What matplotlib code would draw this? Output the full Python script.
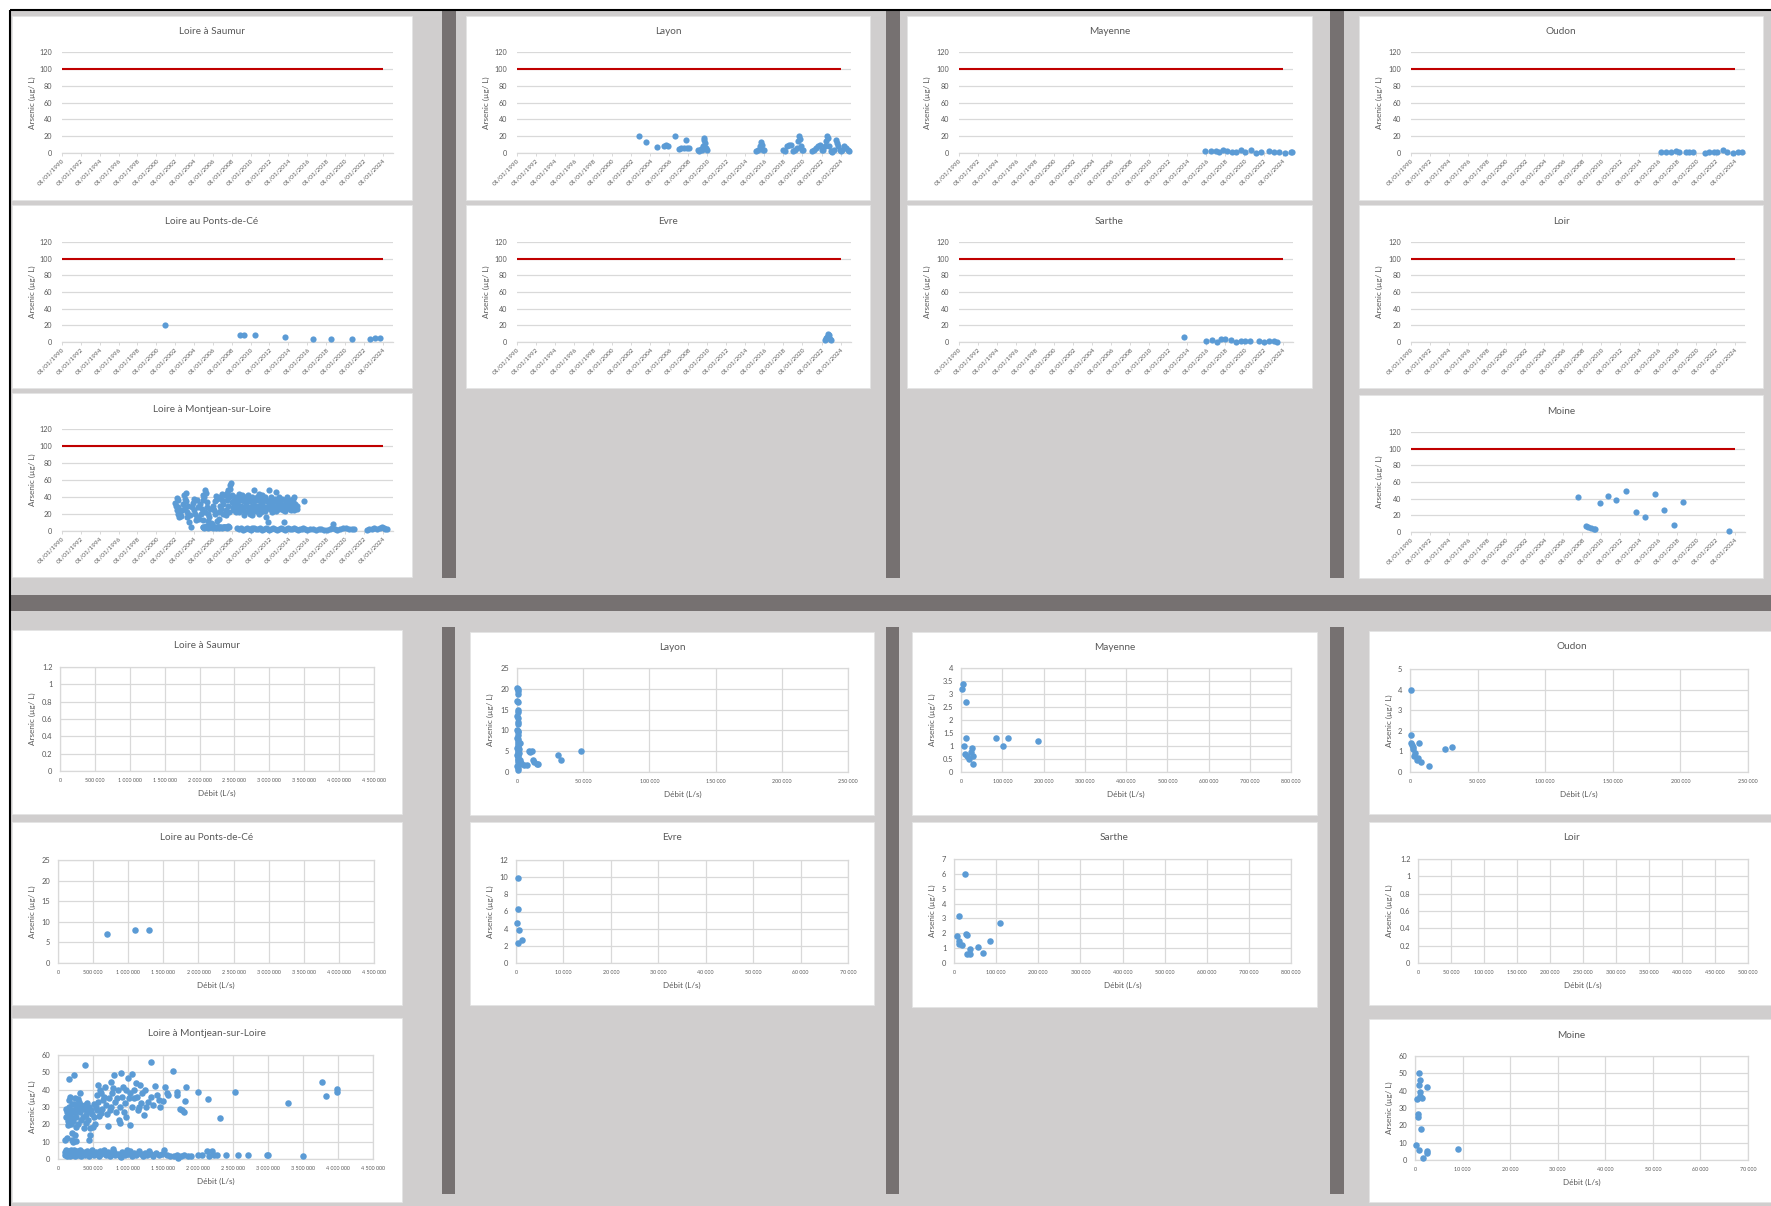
import matplotlib
matplotlib.use("Agg")
import matplotlib.pyplot as plt
from matplotlib.patches import Rectangle
from matplotlib.ticker import FuncFormatter
import numpy as np

plt.rcParams['font.family'] = ['Lato', 'DejaVu Sans']

# ---------------------------------------------------------------- data
# Time series: decimal year, arsenic (µg/L)
saumur_year, saumur_as = [], []

ponts_year = [2000.9, 2008.9, 2009.3, 2010.5, 2013.6, 2016.6, 2018.5, 2020.8, 2022.7, 2023.2, 2023.7]
ponts_as = [20, 8, 8, 8, 6, 4, 4, 3, 4, 5, 5]

montjean_year = [
    2002.1, 2002.2, 2002.3, 2002.4, 2002.7, 2003.0, 2003.1, 2003.3, 2003.5, 2003.7,
    2003.8, 2004.0, 2004.2, 2004.4, 2004.5, 2004.7, 2004.9, 2005.1, 2005.2, 2005.4,
    2005.3, 2005.6, 2005.8, 2005.9, 2006.1, 2006.3, 2006.5, 2006.6, 2006.8, 2007.0,
    2007.2, 2007.4, 2007.5, 2007.6, 2007.8, 2007.9, 2008.1, 2008.2, 2008.4, 2008.6,
    2008.8, 2008.9, 2009.1, 2009.3, 2009.5, 2009.6, 2009.8, 2010.0, 2010.2, 2010.4,
    2010.5, 2010.7, 2010.9, 2011.1, 2011.2, 2011.4, 2011.6, 2011.8, 2012.0, 2012.1,
    2012.3, 2012.5, 2012.7, 2012.9, 2013.2, 2013.4, 2013.5, 2013.7, 2013.9, 2014.0,
    2014.3, 2014.5, 2014.8, 2015.7,
    2002.0, 2002.15, 2002.25, 2002.35, 2002.5, 2002.6, 2002.8, 2002.9, 2003.05, 2003.2,
    2003.25, 2003.4, 2003.6, 2003.9, 2004.05, 2004.1, 2004.3, 2004.35, 2004.6, 2004.8,
    2004.95, 2005.0, 2005.15, 2005.25, 2005.35, 2005.45, 2005.5, 2005.65, 2005.75, 2006.0,
    2006.2, 2006.25, 2006.4, 2006.45, 2006.7, 2006.75, 2006.9, 2006.95, 2007.05, 2007.1,
    2007.3, 2007.35, 2007.45, 2007.55, 2007.7, 2007.75, 2007.85, 2008.0, 2008.05, 2008.15,
    2008.3, 2008.35, 2008.5, 2008.55, 2008.7, 2008.75, 2008.85, 2009.0, 2009.05, 2009.2,
    2009.25, 2009.4, 2009.45, 2009.55, 2009.7, 2009.75, 2009.9, 2009.95, 2010.1, 2010.15,
    2010.3, 2010.35, 2010.6, 2010.65, 2010.8, 2010.85, 2011.0, 2011.05, 2011.15, 2011.3,
    2011.35, 2011.5, 2011.55, 2011.7, 2011.75, 2011.9, 2012.05, 2012.2, 2012.25, 2012.4,
    2012.45, 2012.6, 2012.65, 2012.8, 2012.85, 2013.0, 2013.05, 2013.15, 2013.3, 2013.35,
    2013.45, 2013.6, 2013.65, 2013.8, 2013.85, 2014.1, 2014.15, 2014.2, 2014.4, 2014.45,
    2014.6, 2014.65, 2014.7, 2014.9, 2014.95,
    2004.9, 2005.0, 2005.1, 2005.2, 2005.3, 2005.4, 2005.5, 2005.6, 2005.7, 2005.8,
    2005.9, 2006.0, 2006.1, 2006.2, 2006.3, 2006.4, 2006.5, 2006.6, 2006.7, 2006.8,
    2006.9, 2007.0, 2007.1, 2007.2, 2007.3, 2007.4, 2007.5, 2007.6, 2007.7,
    2008.6, 2008.8, 2009.0, 2009.2, 2009.4, 2009.6, 2009.8, 2010.0, 2010.2, 2010.4,
    2010.6, 2010.8, 2011.0, 2011.2, 2011.4, 2011.6, 2011.8, 2012.0, 2012.2, 2012.4,
    2012.6, 2012.8, 2013.0, 2013.2, 2013.4, 2013.6, 2013.8, 2014.0, 2014.2, 2014.4,
    2014.6, 2014.8, 2015.0, 2015.2, 2015.4, 2015.6, 2015.8, 2016.0, 2016.3, 2016.6,
    2016.9, 2017.2, 2017.5, 2017.8, 2018.1, 2018.4, 2018.6, 2018.7, 2018.9, 2019.2,
    2019.5, 2019.8, 2020.1, 2020.4, 2020.7, 2021.0, 2022.3, 2022.6, 2022.9, 2023.1,
    2023.4, 2023.7, 2023.9, 2024.1, 2024.3, 2024.5]
montjean_as = [
    30, 39, 20.5, 16.6, 24.5, 38, 45, 16.6, 10.7, 4.7,
    28.4, 38, 12.6, 28.4, 14.6, 20.5, 12.6, 40, 48, 28.4,
    4.7, 16.6, 4.7, 8.7, 24.5, 41, 4.7, 14.6, 30, 44,
    4.7, 18.6, 36, 48, 54, 56, 28.4, 36, 22.5, 32.4,
    44, 26.5, 36, 18.6, 30, 38, 24.5, 26.5, 18.6, 48,
    30, 40, 20.5, 32.4, 42, 26.5, 16.6, 10.7, 48, 36,
    30, 26.5, 46, 32.4, 28.4, 24.5, 10.7, 36, 40, 30,
    24.5, 38, 28.4, 35,
    33, 25, 36, 28, 22, 18, 32, 42, 27, 35,
    22, 30, 19, 33, 25, 20, 36, 17, 32, 26,
    42, 36, 22, 45, 34, 12, 20, 26, 10, 30,
    35, 20, 38, 12, 22, 40, 26, 36, 20, 32,
    42, 25, 45, 30, 40, 22, 50, 34, 42, 25,
    40, 30, 38, 26, 35, 22, 38, 30, 42, 25,
    35, 40, 22, 33, 28, 42, 20, 35, 30, 40,
    25, 35, 24, 36, 30, 44, 26, 38, 22, 35,
    30, 24, 40, 28, 35, 32, 26, 40, 22, 34,
    28, 38, 24, 30, 36, 26, 40, 33, 30, 38,
    26, 32, 24, 28, 34, 36, 26, 32, 28, 34,
    40, 25, 32, 30, 26,
    5, 5, 4, 4.5, 6, 5, 4, 5, 5, 6,
    4.5, 4, 5, 5, 4, 4.5, 5, 5, 4, 4.5,
    5, 4, 4.5, 5, 5, 4.5, 4, 6, 5,
    3, 2, 3, 1.5, 2.5, 3, 2, 1, 3.5, 4,
    2, 2.5, 3, 1.5, 2, 3, 2.5, 1, 2, 3,
    2, 1.5, 2.5, 3, 2, 1.5, 2.5, 3, 2, 2.5,
    3.5, 2, 1.5, 2.5, 2, 3, 2, 1.5, 2.5, 2,
    1.5, 2, 2.5, 1.5, 1, 2.5, 3, 8, 2, 1.5,
    2.5, 4, 3, 2, 2.5, 2, 1.5, 2, 2.5, 3,
    2, 3, 5, 3, 2.5, 2]

layon_year = [
    2002.8, 2003.6, 2004.7, 2005.4, 2005.7, 2005.9, 2006.6, 2007.0, 2007.2, 2007.5,
    2007.8, 2007.9, 2008.1, 2009.0, 2009.1, 2009.3, 2009.4, 2009.5, 2009.6, 2009.7,
    2009.8, 2009.9, 2010.0,
    2015.1, 2015.3, 2015.5, 2015.6, 2015.7, 2015.9, 2016.0,
    2018.0, 2018.2, 2018.4, 2018.6, 2018.8, 2019.0, 2019.2, 2019.4, 2019.5, 2019.6,
    2019.7, 2019.8, 2020.0, 2020.1,
    2021.0, 2021.2, 2021.4, 2021.6, 2021.8, 2022.0, 2022.2, 2022.4, 2022.5, 2022.6,
    2022.7, 2022.8, 2023.0, 2023.1, 2023.3, 2023.5, 2023.6, 2023.7, 2023.9, 2024.0,
    2024.2, 2024.4, 2024.6, 2024.8, 2024.9]
layon_as = [
    19.7, 12.6, 7, 8, 9, 8.5, 19.7, 5, 6, 5.5,
    15.8, 6, 6, 3, 2, 5, 4, 8, 17.8, 15,
    12, 6, 3,
    2, 3, 8, 12.6, 10, 4, 3,
    4, 2, 8, 10, 9, 2, 4, 6, 14, 19.7,
    17, 8, 4, 3,
    2, 3, 6, 8, 9, 4, 3, 8, 14, 19.7,
    18, 8, 2, 1, 4, 15.8, 12, 8, 3, 2,
    4, 8, 6, 3, 2]

evre_year = [2022.4, 2022.5, 2022.6, 2022.7, 2022.8, 2022.9, 2023.0]
evre_as = [2.3, 4.7, 6.3, 9.9, 8, 3.8, 2.7]

mayenne_year = [2015.9, 2016.5, 2017.0, 2017.3, 2017.7, 2018.2, 2018.7, 2019.1, 2019.6, 2020.1,
                2020.7, 2021.2, 2021.7, 2022.6, 2023.1, 2023.6, 2024.3, 2024.9, 2025.0]
mayenne_as = [2, 2, 2, 1.6, 3.4, 2, 1.2, 1.6, 3.4, 1.6,
              3.2, 0.4, 1.6, 2.7, 1.3, 1.0, 0.3, 1.3, 1.0]

sarthe_year = [2013.6, 2016.0, 2016.6, 2017.1, 2017.5, 2018.0, 2018.6, 2019.1, 2019.6, 2020.1,
               2020.6, 2021.5, 2022.1, 2022.6, 2023.1, 2023.4]
sarthe_as = [6, 1.2, 2, 0, 4, 3.2, 2, 0.5, 1.6, 0.6,
             1.6, 1.2, 0.2, 1.2, 1.6, 0.2]

oudon_year = [2016.3, 2016.8, 2017.3, 2017.8, 2018.2, 2018.9, 2019.2, 2019.6, 2020.9, 2021.3,
              2021.8, 2022.2, 2022.8, 2023.2, 2023.8, 2024.4, 2024.8]
oudon_as = [1.4, 1.3, 1.2, 1.8, 1.4, 1.1, 0.8, 1.2, 0.3, 0.9,
            0.6, 0.7, 4, 1.4, 0.5, 1.1, 1.2]

loir_year, loir_as = [], []

moine_year = [2007.6, 2008.4, 2008.6, 2008.9, 2009.2, 2009.3, 2009.9, 2010.7, 2011.5, 2012.6,
              2013.6, 2014.6, 2015.6, 2016.6, 2017.6, 2018.6, 2023.4]
moine_as = [42, 6.8, 6, 5.2, 4, 3.2, 35.2, 42.8, 38.8, 49.6,
            24.4, 17.6, 46, 26.4, 8.4, 36.4, 0.8]

# Concentration versus flow: débit (L/s), arsenic (µg/L)
saumur_q, saumur_asq = [], []

ponts_q = [700000, 1100000, 1300000]
ponts_asq = [7, 8, 8]

montjean_q = [
    110e3, 119e3, 143e3, 152e3, 157e3, 167e3, 176e3, 186e3, 195e3, 205e3,
    224e3, 233e3, 243e3, 252e3, 262e3, 281e3, 300e3, 314e3, 333e3, 348e3,
    367e3, 381e3, 395e3, 414e3, 429e3, 443e3, 452e3, 476e3, 500e3, 519e3,
    538e3, 557e3, 576e3, 595e3, 619e3, 643e3, 667e3, 690e3, 719e3, 738e3,
    752e3, 771e3, 800e3, 824e3, 843e3, 867e3, 890e3, 905e3, 929e3, 952e3,
    976e3, 1000e3, 1024e3, 1033e3, 1062e3, 1081e3, 1110e3, 1143e3, 1167e3, 1190e3,
    1224e3, 1248e3, 1286e3, 1324e3, 1357e3, 1390e3, 1414e3, 1452e3, 1500e3, 1533e3,
    1571e3, 1643e3, 1705e3, 1738e3, 1776e3, 1800e3, 1810e3, 1824e3, 2005e3, 2143e3,
    2310e3, 2533e3, 3286e3, 3771e3, 3833e3, 3986e3, 3990e3, 105e3, 125e3,
    130e3, 140e3, 160e3, 170e3, 180e3, 190e3, 200e3, 215e3, 230e3, 245e3,
    260e3, 275e3, 290e3, 305e3, 320e3, 335e3, 350e3, 365e3, 385e3, 400e3,
    420e3, 440e3, 460e3, 490e3, 510e3, 530e3, 550e3, 570e3, 590e3, 610e3,
    630e3, 660e3, 700e3, 730e3, 760e3, 790e3, 810e3, 850e3, 880e3, 915e3,
    940e3, 970e3, 1010e3, 1050e3, 1090e3, 1130e3, 1200e3, 1260e3, 1330e3, 1440e3,
    1560e3, 1700e3, 1160e3, 210e3, 240e3,
    100e3, 105e3, 110e3, 115e3, 120e3, 125e3, 130e3, 135e3, 140e3, 150e3,
    160e3, 170e3, 180e3, 190e3, 200e3, 210e3, 220e3, 230e3, 240e3, 255e3,
    270e3, 285e3, 300e3, 315e3, 330e3, 345e3, 360e3, 380e3, 400e3, 420e3,
    440e3, 460e3, 480e3, 500e3, 520e3, 540e3, 560e3, 580e3, 600e3, 620e3,
    650e3, 680e3, 700e3, 720e3, 740e3, 760e3, 780e3, 800e3, 820e3, 850e3,
    880e3, 900e3, 920e3, 950e3, 980e3, 1000e3, 1030e3, 1060e3, 1090e3, 1120e3,
    1150e3, 1180e3, 1210e3, 1240e3, 1270e3, 1300e3, 1330e3, 1360e3, 1400e3, 1440e3,
    1480e3, 1520e3, 1550e3, 1600e3, 1650e3, 1700e3, 1710e3, 1750e3, 1800e3, 1850e3,
    1900e3, 2000e3, 2050e3, 2130e3, 2150e3, 2200e3, 2230e3, 2270e3, 2400e3, 2570e3,
    2710e3, 2980e3, 3000e3, 3500e3]
montjean_asq = [
    24.4, 29, 19.6, 46, 34, 28, 36, 23.5, 14.8, 11,
    48.5, 32, 26.3, 18.6, 10.6, 34.4, 28.3, 38.3, 22.5, 30.2,
    17.7, 54.2, 25.4, 32.1, 22.5, 11, 13.8, 28.3, 18.6, 24.4,
    30.2, 36.9, 42.7, 39.8, 26.3, 34, 41.7, 31.2, 19, 28.3,
    44.2, 37.9, 48.5, 27.3, 35, 22.5, 20.6, 49.8, 41.7, 32.1,
    24.4, 46.5, 19.6, 37.9, 49, 35, 43.7, 28.3, 42.7, 32.5,
    25.4, 39.8, 33.1, 55.8, 31.2, 42.1, 36.9, 30.2, 33.7, 41.3,
    36.9, 50.8, 38.8, 28.7, 28.3, 27.3, 33.7, 41.7, 38.8, 34.4,
    23.5, 38.8, 32.1, 44.6, 36.5, 38.8, 40.4, 11, 12,
    27, 22, 30, 25, 20, 27, 32, 22, 28, 35,
    24, 30, 20, 33, 27, 31, 24, 29, 31, 21,
    27, 30, 18, 26, 32, 20, 28, 33, 25, 38,
    29, 36, 26, 35, 30, 41, 33, 40, 30, 36,
    27, 40, 35, 30, 40, 36, 38, 30, 36, 34,
    38, 37, 30, 10, 14,
    4, 2.5, 3.5, 5, 3, 2, 4, 3.5, 2.5, 4.5,
    3, 2, 5, 3.5, 2.5, 4, 3, 5, 2, 3.5,
    4.5, 2.5, 3, 5, 2, 3.5, 4, 2.5, 3, 4.5,
    2, 3.5, 5, 3, 2.5, 4, 3, 2, 4.5, 3,
    5, 2.5, 3.5, 4, 2, 3, 6, 4, 2.5, 3,
    1.5, 1, 4, 2.5, 5, 3, 4.5, 2, 3.5, 2.5,
    4.5, 3, 2, 3.5, 2.5, 4.5, 3, 2, 3.5, 2.5,
    3, 5, 2.5, 2, 1.5, 2.5, 0.5, 2, 2.3, 1.8,
    1.8, 2.3, 2.5, 4.5, 1.8, 4.7, 2.3, 2.1, 2.3, 2.1,
    2.1, 2.3, 2.2, 1.7]

layon_q = [300, 500, 400, 600, 300, 500, 400, 600, 300, 700,
           500, 400, 300, 600, 800, 500, 300, 700, 1000, 400,
           600, 900, 300, 1200, 500, 800, 1500, 300, 700, 1100,
           400, 2000, 600, 900, 1500, 2500, 300, 1000, 700, 2500,
           3000, 5000, 7600, 8800, 10000, 11400, 12000, 13000, 15900, 15000,
           30800, 33600, 48000]
layon_asq = [20.3, 19.9, 19.5, 18.8, 17, 16.8, 15, 14.5, 13.5, 13,
             12, 11.5, 10, 9.8, 9.5, 9, 8.2, 8, 7.5, 7,
             6.5, 6, 5.8, 5.5, 5, 4.8, 4.5, 4.2, 4, 3.5,
             3.2, 3, 2.8, 2.5, 2.2, 2, 1.5, 1, 0.6, 7,
             2.2, 1.8, 1.8, 5.05, 4.9, 5.0, 2.8, 2.3, 2.0, 1.9,
             4.2, 3.0, 5.05]

evre_q = [500, 500, 200, 600, 500, 1200]
evre_asq = [9.9, 6.3, 4.7, 3.8, 2.3, 2.7]

mayenne_q = [4000, 3200, 12000, 11000, 7000, 10000, 14000, 19000, 24000, 26000,
             30000, 29000, 84000, 101000, 114000, 186000]
mayenne_asq = [3.4, 3.2, 2.7, 1.3, 1.0, 0.7, 0.6, 0.5, 0.77, 0.92,
               0.62, 0.31, 1.3, 1.0, 1.3, 1.2]

sarthe_q = [7900, 11800, 11000, 13000, 18000, 26000, 29000, 31500, 30700, 37000,
            38600, 56700, 70000, 85000, 109000]
sarthe_asq = [1.8, 3.18, 1.46, 1.3, 1.2, 5.97, 1.98, 1.9, 0.59, 0.97,
              0.59, 1.06, 0.68, 1.46, 2.66]

oudon_q = [500, 1000, 500, 1500, 2000, 2500, 3000, 4000, 5000, 6000,
           7000, 8000, 14000, 26000, 31000]
oudon_asq = [4, 1.8, 1.4, 1.3, 1.2, 1.1, 0.8, 0.9, 0.6, 0.7,
             1.4, 0.5, 0.3, 1.1, 1.2]

loir_q, loir_asq = [], []

moine_q = [800, 1000, 800, 2500, 1100, 1000, 1400, 500, 700, 700,
           1200, 200, 800, 2500, 2600, 1600, 9000]
moine_asq = [50, 46, 43, 42, 39, 37, 36, 35, 26.5, 25,
             18, 8.5, 6, 5, 4, 1, 6.5]

LIMIT = 100          # regulatory reference value (µg/L)
YEAR_TICKS = list(range(1990, 2025, 2))

# ---------------------------------------------------------------- figure
W, H = 1771, 1206
fig = plt.figure(figsize=(W / 100, H / 100), dpi=100)

LIGHT = '#d0cece'
DARK = '#767171'
GRID = '#d9d9d9'
TXT = '#595959'
DOT = '#5b9bd5'
RED = '#c00000'


def frect(x0, y0, x1, y1):
    return [x0 / W, 1 - y1 / H, (x1 - x0) / W, (y1 - y0) / H]


bg = fig.add_axes([0, 0, 1, 1])
bg.set_xlim(0, W)
bg.set_ylim(H, 0)
bg.axis('off')
bg.add_patch(Rectangle((10, 10), W - 10, H - 10, color=LIGHT, lw=0))

dark_blocks = [
    (442, 10, 456, 578), (886, 10, 900, 578), (1330, 10, 1344, 578),
    (10, 595, W, 611),
    (442, 627, 455, 1194), (886, 627, 899, 1194), (1330, 627, 1344, 1194),
]
for x0, y0, x1, y1 in dark_blocks:
    bg.add_patch(Rectangle((x0, y0), x1 - x0, y1 - y0, color=DARK, lw=0))
bg.plot([10, W], [10, 10], color='black', lw=1.5, solid_capstyle='butt')
bg.plot([10, 10], [10, H], color='black', lw=1.5, solid_capstyle='butt')


def panel(box):
    x0, y0, x1, y1 = box
    bg.add_patch(Rectangle((x0, y0), x1 - x0, y1 - y0, facecolor='white',
                           edgecolor='#e4e4e4', lw=0.6))


def thousands(v, _pos=None):
    return f"{int(round(v)):,}".replace(",", " ")


def general(v, _pos=None):
    return f"{round(v, 6):g}"


TITLE_FS = 7.2
LABEL_FS = 5.9


def date_chart(box, arect, title, years, values):
    panel(box)
    x0, y0, x1, y1 = box
    ax = fig.add_axes(frect(*arect))
    ax.set_facecolor('none')
    ax.set_xlim(1990, 2025.1)
    ax.set_ylim(0, 120)
    ax.set_yticks(np.arange(0, 121, 20))
    ax.set_xticks(YEAR_TICKS)
    ax.set_xticklabels([f"01/01/{y}" for y in YEAR_TICKS], rotation=45,
                       ha='right', rotation_mode='anchor')
    ax.yaxis.grid(True, color=GRID, lw=0.9)
    ax.set_axisbelow(True)
    for s in ('top', 'right', 'left'):
        ax.spines[s].set_visible(False)
    ax.spines['bottom'].set_color(GRID)
    ax.spines['bottom'].set_linewidth(0.9)
    ax.tick_params(axis='y', length=0, pad=7, labelsize=5.2, labelcolor=TXT)
    ax.tick_params(axis='x', length=2.2, width=0.7, color=GRID, pad=1.0,
                   labelsize=4.6, labelcolor=TXT)
    ax.plot([YEAR_TICKS[0], 2024], [LIMIT, LIMIT], color=RED, lw=1.5,
            solid_capstyle='butt', zorder=2)
    if len(years):
        ax.scatter(years, values, s=20, color=DOT, lw=0, zorder=3, clip_on=False)
    fig.text((x0 + x1) / 2 / W, 1 - (y0 + 16) / H, title, ha='center',
             va='center', fontsize=TITLE_FS, color=TXT)
    fig.text((x0 + 20) / W, 1 - (arect[1] + arect[3]) / 2 / H, 'Arsenic (µg/ L)',
             rotation=90, ha='center', va='center', fontsize=LABEL_FS, color=TXT)


def flow_chart(box, arect, title, q, values, xmax, xstep, ymax, ystep):
    panel(box)
    x0, y0, x1, y1 = box
    ax = fig.add_axes(frect(*arect))
    ax.set_facecolor('none')
    ax.set_xlim(0, xmax)
    ax.set_ylim(0, ymax)
    ax.set_xticks(np.arange(0, xmax + xstep / 2, xstep))
    ax.set_yticks(np.arange(0, ymax + ystep / 2, ystep))
    ax.xaxis.set_major_formatter(FuncFormatter(thousands))
    ax.yaxis.set_major_formatter(FuncFormatter(general))
    ax.grid(True, color=GRID, lw=0.9)
    ax.set_axisbelow(True)
    for s in ax.spines.values():
        s.set_color(GRID)
        s.set_linewidth(0.9)
    ax.tick_params(axis='y', length=0, pad=5.5, labelsize=5.4, labelcolor=TXT)
    ax.tick_params(axis='x', length=0, pad=5, labelsize=3.9, labelcolor=TXT)
    if len(q):
        ax.scatter(q, values, s=22, color=DOT, lw=0, zorder=3, clip_on=False)
    fig.text((x0 + x1) / 2 / W, 1 - (y0 + 16) / H, title, ha='center',
             va='center', fontsize=TITLE_FS, color=TXT)
    fig.text((x0 + 20) / W, 1 - (arect[1] + arect[3]) / 2 / H, 'Arsenic (µg/ L)',
             rotation=90, ha='center', va='center', fontsize=LABEL_FS, color=TXT)
    fig.text((arect[0] + arect[2]) / 2 / W, 1 - (arect[3] + 22) / H, 'Débit (L/s)',
             ha='center', va='center', fontsize=LABEL_FS, color=TXT)


# concentration over time
date_chart((12, 16, 412, 200), (62, 52, 393, 153), 'Loire à Saumur', saumur_year, saumur_as)
date_chart((12, 205, 412, 388), (62, 242, 393, 342), 'Loire au Ponts-de-Cé', ponts_year, ponts_as)
date_chart((12, 393, 412, 577), (62, 429, 393, 531), 'Loire à Montjean-sur-Loire', montjean_year, montjean_as)
date_chart((466, 16, 870, 200), (517, 52, 851, 153), 'Layon', layon_year, layon_as)
date_chart((466, 205, 870, 388), (517, 242, 851, 342), 'Evre', evre_year, evre_as)
date_chart((907, 16, 1312, 200), (959, 52, 1293, 153), 'Mayenne', mayenne_year, mayenne_as)
date_chart((907, 205, 1312, 388), (959, 242, 1293, 342), 'Sarthe', sarthe_year, sarthe_as)
date_chart((1359, 16, 1763, 200), (1411, 52, 1745, 153), 'Oudon', oudon_year, oudon_as)
date_chart((1359, 205, 1763, 388), (1411, 242, 1745, 342), 'Loir', loir_year, loir_as)
date_chart((1359, 395, 1763, 578), (1411, 432, 1745, 532), 'Moine', moine_year, moine_as)

# concentration versus flow
flow_chart((12, 630, 402, 814), (60, 667, 374, 771), 'Loire à Saumur', saumur_q, saumur_asq,
           4.5e6, 5e5, 1.2, 0.2)
flow_chart((12, 822, 402, 1005), (58, 860, 374, 963), 'Loire au Ponts-de-Cé', ponts_q, ponts_asq,
           4.5e6, 5e5, 25, 5)
flow_chart((12, 1018, 402, 1202), (58, 1055, 373, 1159), 'Loire à Montjean-sur-Loire',
           montjean_q, montjean_asq, 4.5e6, 5e5, 60, 10)
flow_chart((470, 632, 874, 815), (517, 668, 848, 772), 'Layon', layon_q, layon_asq,
           250000, 50000, 25, 5)
flow_chart((470, 822, 874, 1005), (516, 860, 848, 963), 'Evre', evre_q, evre_asq,
           70000, 10000, 12, 2)
flow_chart((912, 632, 1317, 815), (961, 668, 1291, 772), 'Mayenne', mayenne_q, mayenne_asq,
           800000, 100000, 4, 0.5)
flow_chart((912, 822, 1317, 1007), (954, 859, 1291, 963), 'Sarthe', sarthe_q, sarthe_asq,
           800000, 100000, 7, 1)
flow_chart((1369, 631, 1774, 814), (1410, 669, 1748, 772), 'Oudon', oudon_q, oudon_asq,
           250000, 50000, 5, 1)
flow_chart((1369, 822, 1774, 1005), (1418, 859, 1748, 963), 'Loir', loir_q, loir_asq,
           500000, 50000, 1.2, 0.2)
flow_chart((1369, 1019, 1774, 1202), (1415, 1056, 1748, 1160), 'Moine', moine_q, moine_asq,
           70000, 10000, 60, 10)

fig.savefig('out.png', dpi=100)
